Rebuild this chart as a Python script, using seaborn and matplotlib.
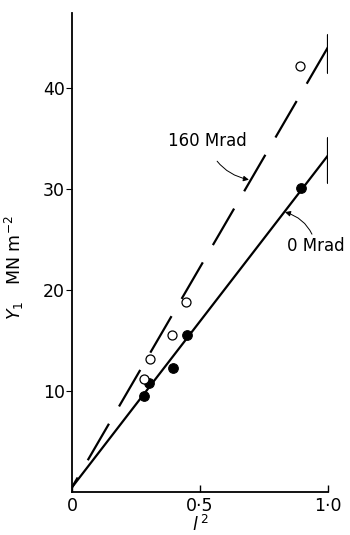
import matplotlib
matplotlib.use("Agg")
import matplotlib.pyplot as plt
import numpy as np
import pandas as pd
import seaborn as sns

# Measured points: Y1 (MN m^-2) against l^2
l2_0 = [0.281, 0.300, 0.394, 0.450, 0.895]
y_0 = [9.5, 10.8, 12.3, 15.5, 30.1]
l2_160 = [0.281, 0.305, 0.390, 0.445, 0.890]
y_160 = [11.2, 13.2, 15.5, 18.8, 42.1]

# Fitted straight lines (end points, drawn from l^2 = 1 down to 0)
fit_x = [1.0, 0.0]
fit_0 = [33.3, 0.5]
fit_160 = [44.0, 0.5]
# Bars drawn across each line at l^2 = 1
bar_0 = [30.6, 35.0]
bar_160 = [41.5, 45.2]

xticks = [0.0, 0.5, 1.0]
xtick_labels = ["0", "0·5", "1·0"]
yticks = [10, 20, 30, 40]

sns.set_theme(style="ticks")
plt.rcParams["font.family"] = ["DejaVu Sans"]
plt.rcParams["text.color"] = "black"
plt.rcParams["axes.labelcolor"] = "black"

fig = plt.figure(figsize=(3.5, 5.35), dpi=100)
ax = fig.add_axes([0.206, 0.080, 0.731, 0.896])

points = pd.concat([
    pd.DataFrame({"l2": l2_0, "Y": y_0, "dose": "0 Mrad"}),
    pd.DataFrame({"l2": l2_160, "Y": y_160, "dose": "160 Mrad"}),
])
lines = pd.concat([
    pd.DataFrame({"l2": fit_x, "Y": fit_0, "dose": "0 Mrad"}),
    pd.DataFrame({"l2": fit_x, "Y": fit_160, "dose": "160 Mrad"}),
])

sns.lineplot(data=lines, x="l2", y="Y", style="dose", sort=False,
             dashes={"0 Mrad": "", "160 Mrad": (19, 9)},
             color="black", linewidth=1.6, legend=False, ax=ax)
for line in ax.lines:
    line.set_solid_capstyle("butt")
    line.set_dash_capstyle("butt")

sns.scatterplot(data=points[points.dose == "0 Mrad"], x="l2", y="Y",
                s=48, color="black", edgecolor="black", linewidth=0.8,
                legend=False, ax=ax, zorder=3)
sns.scatterplot(data=points[points.dose == "160 Mrad"], x="l2", y="Y",
                s=42, facecolor="white", edgecolor="black", linewidth=0.9,
                legend=False, ax=ax, zorder=3)

ax.plot([1.0, 1.0], bar_0, color="black", linewidth=1.6)
ax.plot([1.0, 1.0], bar_160, color="black", linewidth=1.6)

ax.set_xlim(0, 1.0)
ax.set_ylim(0, 47.4)
ax.set_xticks(xticks)
ax.set_xticklabels(xtick_labels)
ax.set_yticks(yticks)

sns.despine(ax=ax)
for side in ("left", "bottom"):
    ax.spines[side].set_linewidth(1.3)
    ax.spines[side].set_color("black")
ax.tick_params(axis="x", direction="in", length=5, width=1.0, pad=3.5,
               labelsize=12.5, colors="black")
ax.tick_params(axis="y", direction="out", length=4.5, width=0.8, pad=0.5,
               labelsize=12.5, colors="black")

ax.set_xlabel("$l^{\\,2}$", fontsize=12.5, labelpad=0)
ax.set_ylabel("$Y_1$   MN m$^{-2}$", fontsize=12.5)
ax.yaxis.set_label_coords(-0.18, 0.468)

ax.annotate("160 Mrad", xy=(0.691, 30.9), xytext=(0.527, 34.75),
            ha="center", va="center", fontsize=12, color="black",
            arrowprops=dict(arrowstyle="-|>", color="black", lw=0.7,
                            shrinkA=7, shrinkB=0, mutation_scale=8,
                            connectionstyle="arc3,rad=0.3"))
ax.annotate("0 Mrad", xy=(0.832, 27.7), xytext=(0.953, 24.3),
            ha="center", va="center", fontsize=12, color="black",
            annotation_clip=False,
            arrowprops=dict(arrowstyle="-|>", color="black", lw=0.7,
                            shrinkA=0, shrinkB=0, mutation_scale=8,
                            connectionstyle="arc3,rad=0.3"))

fig.savefig("out.png", dpi=100, facecolor="white")
